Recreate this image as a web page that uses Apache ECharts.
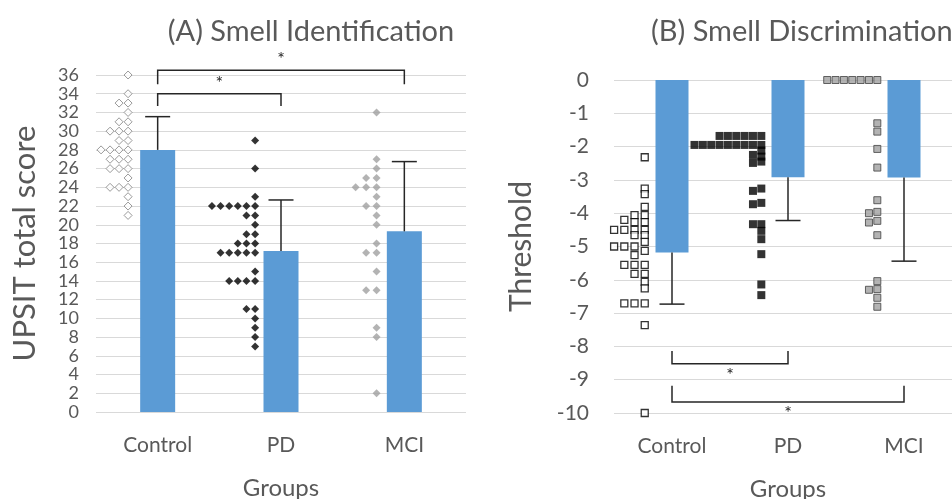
<!DOCTYPE html>
<html>
<head>
<meta charset="utf-8">
<script src="https://cdn.jsdelivr.net/npm/echarts@6/dist/echarts.min.js"></script>
<style>
  html, body { margin: 0; padding: 0; background: #fff; }
  #chart { width: 952px; height: 499px; }
</style>
</head>
<body>
<div id="chart"></div>
<script>
// categories
var groups = ["Control", "PD", "MCI"];

// (A) smell identification: UPSIT total score
var upsitMean = [28, 17.2, 19.3];
var upsitErr = [3.55, 5.45, 7.45];
var upsitControl = [36, 34, 33, 33, 32, 31, 31, 30, 30, 30, 29, 29, 28, 28, 28, 28, 28,
  27, 27, 27, 26, 26, 26, 25, 24, 24, 24, 23, 22, 21];
var upsitPD = [29, 26, 23, 22, 22, 22, 22, 22, 22, 21, 21, 20, 19, 19, 18, 18, 18,
  17, 17, 17, 17, 17, 15, 14, 14, 14, 14, 11, 11, 10, 9, 8, 7];
var upsitMCI = [32, 27, 26, 25, 25, 24, 24, 24, 23, 22, 22, 21, 20, 18, 17, 17, 15,
  13, 13, 9, 8, 2];
var upsitTicks = [0, 36, 2];

// (B) smell discrimination: threshold
var threshMean = [-5.18, -2.92, -2.93];
var threshErr = [1.55, 1.3, 2.51];
var threshControl = [-2.32, -3.26, -3.43, -3.81, -4.06, -4.06, -4.27, -4.27, -4.2,
  -4.5, -4.5, -4.5, -4.5, -4.66, -4.66, -4.86, -5.0, -5.0, -5.0, -5.13, -5.26,
  -5.55, -5.55, -5.55, -5.82, -5.82, -6.06, -6.26, -6.71, -6.71, -6.71, -7.36, -10];
var threshPD = [-1.68, -1.68, -1.68, -1.68, -1.68, -1.68,
  -1.95, -1.95, -1.95, -1.95, -1.95, -1.95, -1.95, -1.95, -1.95,
  -2.12, -2.25, -2.3, -2.45, -2.49, -3.26, -3.33, -3.69, -3.73,
  -4.33, -4.33, -4.53, -4.78, -5.23, -6.14, -6.46];
var threshMCI = [0, 0, 0, 0, 0, 0, 0, -1.3, -1.55, -2.07, -2.63, -3.61, -3.96, -4.0,
  -4.23, -4.28, -4.66, -6.04, -6.28, -6.3, -6.54, -6.81];
var threshTicks = [-10, 0, 1];

// significance brackets: [from group, to group, bar level, tick end]
var upsitBrackets = [[1, 2, 34, 32.7], [1, 3, 36.5, 35]];
var threshBrackets = [[1, 2, -8.52, -8.14], [1, 3, -9.67, -9.18]];

var blue = "#5B9BD5";
var textGray = "#595959";
var font = "Lato";

// dot plot: equal (or very close) values are pushed one column to the left
function dots(values, group, offset, step, thr) {
  var placed = [];
  return values.map(function (v) {
    var c = 0;
    while (placed.some(function (p) { return p.c === c && Math.abs(p.v - v) < thr; })) c++;
    placed.push({ c: c, v: v });
    return [group + offset - c * step, v];
  });
}

function errorBars(means, errs) {
  return means.map(function (m, i) {
    return [i, m, m + (m < 0 ? -errs[i] : errs[i])];
  });
}

function renderError(params, api) {
  var p0 = api.coord([api.value(0), api.value(1)]);
  var p1 = api.coord([api.value(0), api.value(2)]);
  var st = { stroke: "#262626", lineWidth: 1.5 };
  return {
    type: "group",
    children: [
      { type: "line", shape: { x1: p0[0], y1: p0[1], x2: p1[0], y2: p1[1] }, style: st },
      { type: "line", shape: { x1: p1[0] - 12.5, y1: p1[1], x2: p1[0] + 12.5, y2: p1[1] }, style: st }
    ]
  };
}

function bracketRenderer(starDy) {
  return function (params, api) {
    var a = api.coord([api.value(0), api.value(3)]);
    var b = api.coord([api.value(0), api.value(2)]);
    var c = api.coord([api.value(1), api.value(2)]);
    var d = api.coord([api.value(1), api.value(3)]);
    return {
      type: "group",
      children: [
        { type: "polyline", shape: { points: [a, b, c, d] },
          style: { stroke: "#262626", lineWidth: 1.5, fill: null } },
        { type: "text", x: (b[0] + c[0]) / 2, y: b[1] + starDy,
          style: { text: "*", fill: "#262626", font: "18px " + font, align: "center", verticalAlign: "middle" } }
      ]
    };
  };
}

var chart = echarts.init(document.getElementById("chart"));

var valueAxisCommon = {
  type: "value",
  splitLine: { lineStyle: { color: "#d9d9d9", width: 1 } },
  axisLine: { show: false },
  axisTick: { show: false },
  nameLocation: "middle",
  nameRotate: 90,
  nameTextStyle: { color: textGray, fontFamily: font }
};

var catAxisCommon = {
  type: "category",
  data: groups,
  axisLine: { show: false },
  axisTick: { show: false },
  nameLocation: "middle",
  axisLabel: { color: textGray, fontFamily: font, fontSize: 21, margin: 23 },
  nameTextStyle: { color: textGray, fontFamily: font, fontSize: 24 }
};

var dotAxisCommon = { type: "value", min: 0.5, max: 3.5, show: false };

chart.setOption({
  animation: false,
  title: [
    { text: "(A) Smell Identification", left: 306, top: 12, textAlign: "center",
      textStyle: { color: textGray, fontFamily: font, fontSize: 29, fontWeight: "normal" } },
    { text: "(B) Smell Discrimination", left: 646, top: 12,
      textStyle: { color: textGray, fontFamily: font, fontSize: 29, fontWeight: "normal" } }
  ],
  grid: [
    { left: 96, right: 486, top: 75, bottom: 87, outerBoundsMode: "none", containLabel: false },
    { left: 614, right: -10, top: 80, bottom: 86, outerBoundsMode: "none", containLabel: false }
  ],
  xAxis: [
    Object.assign({}, catAxisCommon, { gridIndex: 0, name: "Groups", nameGap: 64 }),
    Object.assign({}, catAxisCommon, { gridIndex: 1, name: "Groups", nameGap: 64 }),
    Object.assign({}, dotAxisCommon, { gridIndex: 0 }),
    Object.assign({}, dotAxisCommon, { gridIndex: 1 })
  ],
  yAxis: [
    Object.assign({}, valueAxisCommon, {
      gridIndex: 0, min: upsitTicks[0], max: upsitTicks[1], interval: upsitTicks[2],
      name: "UPSIT total score", nameGap: 56,
      nameTextStyle: { color: textGray, fontFamily: font, fontSize: 31 },
      axisLabel: { color: textGray, fontFamily: font, fontSize: 18, margin: 17 }
    }),
    Object.assign({}, valueAxisCommon, {
      gridIndex: 1, min: threshTicks[0], max: threshTicks[1], interval: threshTicks[2],
      name: "Threshold", nameGap: 78,
      nameTextStyle: { color: textGray, fontFamily: font, fontSize: 30 },
      axisLabel: { color: textGray, fontFamily: font, fontSize: 21, margin: 25 }
    })
  ],
  series: [
    { type: "bar", xAxisIndex: 0, yAxisIndex: 0, data: upsitMean, barWidth: 35,
      itemStyle: { color: blue } },
    { type: "bar", xAxisIndex: 1, yAxisIndex: 1, data: threshMean, barWidth: 33,
      itemStyle: { color: blue } },
    { type: "custom", xAxisIndex: 0, yAxisIndex: 0, data: errorBars(upsitMean, upsitErr),
      renderItem: renderError, z: 5 },
    { type: "custom", xAxisIndex: 1, yAxisIndex: 1, data: errorBars(threshMean, threshErr),
      renderItem: renderError, z: 5 },

    // (A) dots
    { type: "scatter", xAxisIndex: 2, yAxisIndex: 0, symbol: "diamond", symbolSize: [8, 8],
      data: dots(upsitControl, 1, -0.24, 0.073, 0.5),
      itemStyle: { color: "#fff", borderColor: "#7f7f7f", borderWidth: 1 } },
    { type: "scatter", xAxisIndex: 2, yAxisIndex: 0, symbol: "diamond", symbolSize: [8, 8],
      data: dots(upsitPD, 2, -0.21, 0.07, 0.5),
      itemStyle: { color: "#000" } },
    { type: "scatter", xAxisIndex: 2, yAxisIndex: 0, symbol: "diamond", symbolSize: [8, 8],
      data: dots(upsitMCI, 3, -0.225, 0.085, 0.5),
      itemStyle: { color: "#a0a0a0" } },

    // (B) dots
    { type: "scatter", xAxisIndex: 3, yAxisIndex: 1, symbol: "rect", symbolSize: 7,
      data: dots(threshControl, 1, -0.235, 0.088, 0.15),
      itemStyle: { color: "#fff", borderColor: "#000", borderWidth: 1.3 } },
    { type: "scatter", xAxisIndex: 3, yAxisIndex: 1, symbol: "rect", symbolSize: 8,
      data: dots(threshPD, 2, -0.23, 0.072, 0.15),
      itemStyle: { color: "#000" } },
    { type: "scatter", xAxisIndex: 3, yAxisIndex: 1, symbol: "rect", symbolSize: 7,
      data: dots(threshMCI, 3, -0.23, 0.072, 0.15),
      itemStyle: { color: "#a0a0a0", borderColor: "#404040", borderWidth: 1 } },

    // significance brackets
    { type: "custom", xAxisIndex: 2, yAxisIndex: 0, data: upsitBrackets, clip: false,
      renderItem: bracketRenderer(-11), z: 6 },
    { type: "custom", xAxisIndex: 3, yAxisIndex: 1, data: threshBrackets, clip: false,
      renderItem: bracketRenderer(11), z: 6 }
  ]
});
</script>
</body>
</html>
